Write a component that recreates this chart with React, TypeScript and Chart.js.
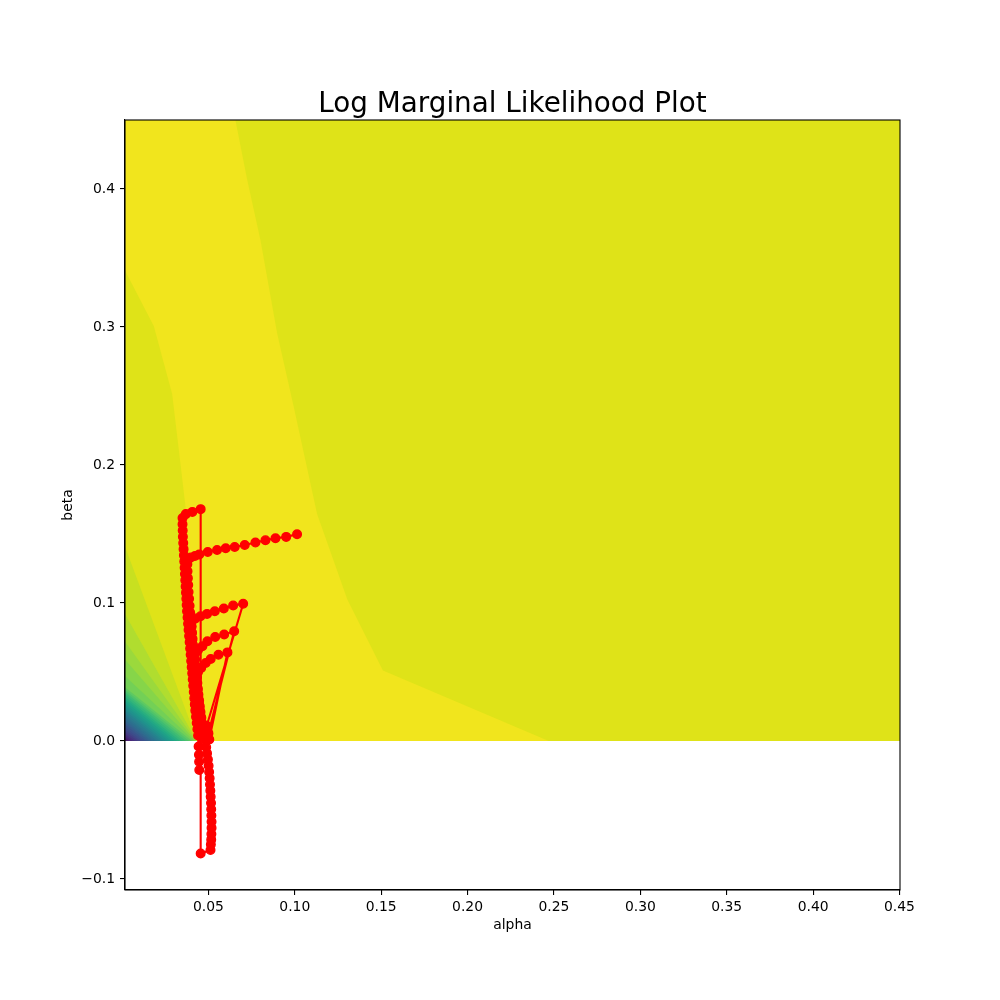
import React, { useEffect, useRef } from "react";
import { Chart, registerables } from "chart.js";

Chart.register(...registerables);

// ---------- text ----------
const titleText = "Log Marginal Likelihood Plot";
const xLabelText = "alpha";
const yLabelText = "beta";

// ---------- axes ----------
const X_MIN = 0.0017;
const X_MAX = 0.4503;
const Y_MIN = -0.108;
const Y_MAX = 0.45;
const xTickValues = [0.05, 0.1, 0.15, 0.2, 0.25, 0.3, 0.35, 0.4, 0.45];
const yTickValues = [-0.1, 0.0, 0.1, 0.2, 0.3, 0.4];

// ---------- contour (filled levels) ----------
const gridAlpha = [0.0017, 0.4503];
const gridBeta = [0.0, 0.45];
const mainLevelColor = "#dfe318";
const peakLevelColor = "#f1e51d";

// left edge of the highest level band (top -> bottom)
const peakLeftAlpha = [0.0017, 0.0017, 0.0184, 0.029, 0.0339, 0.0367, 0.0385, 0.041, 0.0435];
const peakLeftBeta = [0.45, 0.341, 0.3006, 0.2515, 0.2, 0.17, 0.14, 0.08, 0.0];
// right edge of the highest level band (bottom -> top)
const peakRightAlpha = [0.247, 0.151, 0.1304, 0.1129, 0.0994, 0.0898, 0.0801, 0.0724, 0.0656];
const peakRightBeta = [0.0, 0.051, 0.1025, 0.1644, 0.242, 0.2953, 0.3631, 0.4068, 0.45];

// lower level lines near the origin: where each meets the left edge (beta) and beta = 0 (alpha)
const fanEdgeBeta = [
  0.141, 0.092, 0.072, 0.059, 0.047, 0.039, 0.0372, 0.0355, 0.0338, 0.0321, 0.0304, 0.0287,
  0.027, 0.0253, 0.0236, 0.0219, 0.0202, 0.0185, 0.0168, 0.0151, 0.0134, 0.0117, 0.01,
  0.0083, 0.0066, 0.005, 0.0036, 0.0023, 0.0012, 0.0004,
];
const fanEdgeAlpha = [
  0.0435, 0.0433, 0.043, 0.0425, 0.0418, 0.0405, 0.0388, 0.037, 0.0352, 0.0335, 0.0318, 0.0301,
  0.0284, 0.0268, 0.0252, 0.0236, 0.022, 0.0204, 0.0188, 0.0172, 0.0156, 0.014, 0.0124,
  0.0108, 0.0092, 0.0076, 0.006, 0.0044, 0.003, 0.0018,
];
const fanColors = [
  "#c8e020", "#b0dd2f", "#9bd93c", "#86d549", "#73d056", "#5ec962", "#4ec36b", "#3fbc73",
  "#34b679", "#29af7f", "#22a884", "#1fa088", "#1f998a", "#20928c", "#238a8d", "#26828e",
  "#297b8e", "#2b748e", "#2e6d8e", "#32658e", "#365d8d", "#3a548c", "#3d4d8a", "#414487",
  "#443a83", "#46307e", "#482677", "#481c6e", "#471063", "#450457",
];

// ---------- optimisation path (alpha, beta) ----------
const run1Alpha = [0.1013, 0.095, 0.0888, 0.083, 0.0772, 0.071, 0.0652, 0.06, 0.055, 0.0496, 0.0447, 0.0422, 0.0398, 0.0384, 0.0378, 0.0379, 0.0381, 0.0383, 0.0385, 0.0388, 0.0391, 0.0394, 0.0397, 0.04, 0.0403, 0.0406, 0.0409, 0.0412, 0.0415, 0.0418, 0.0421, 0.0424, 0.0428, 0.0431, 0.0435, 0.0439, 0.0443, 0.0447, 0.0452, 0.046, 0.0473, 0.049];
const run1Beta = [0.1498, 0.1479, 0.1469, 0.1455, 0.1438, 0.142, 0.1406, 0.1396, 0.1384, 0.1369, 0.1352, 0.134, 0.133, 0.1318, 0.128, 0.123, 0.118, 0.113, 0.108, 0.103, 0.098, 0.093, 0.088, 0.083, 0.078, 0.073, 0.068, 0.063, 0.058, 0.053, 0.048, 0.043, 0.038, 0.033, 0.028, 0.023, 0.018, 0.0135, 0.01, 0.0085, 0.009, 0.011];
const run2Alpha = [0.0701, 0.0643, 0.0589, 0.0537, 0.0492, 0.0454, 0.0425, 0.0405, 0.0403, 0.0405, 0.0408, 0.0411, 0.0414, 0.0417, 0.042, 0.0423, 0.0426, 0.0429, 0.0432, 0.0436, 0.044, 0.0444, 0.0448, 0.0452, 0.0458, 0.0468, 0.0485, 0.05];
const run2Beta = [0.0994, 0.0982, 0.096, 0.094, 0.0921, 0.0904, 0.0888, 0.087, 0.083, 0.0785, 0.074, 0.0695, 0.065, 0.0605, 0.056, 0.0515, 0.047, 0.0425, 0.038, 0.0335, 0.029, 0.0245, 0.02, 0.0155, 0.0115, 0.008, 0.006, 0.0055];
const run3Alpha = [0.0649, 0.0591, 0.0539, 0.0494, 0.0465, 0.044, 0.0424, 0.0423, 0.0425, 0.0428, 0.0431, 0.0434, 0.0437, 0.0441, 0.0445, 0.0449, 0.0454, 0.0459, 0.0467, 0.0479, 0.0492, 0.0505];
const run3Beta = [0.0795, 0.0771, 0.0754, 0.0722, 0.0686, 0.066, 0.0635, 0.059, 0.0545, 0.05, 0.0455, 0.041, 0.0365, 0.032, 0.0275, 0.023, 0.0185, 0.014, 0.0095, 0.0055, 0.0025, 0.001];
const run4Alpha = [0.061, 0.0558, 0.0513, 0.0484, 0.0458, 0.044, 0.0434, 0.0436, 0.0439, 0.0442, 0.0446, 0.045, 0.0454, 0.0459, 0.0464, 0.047, 0.0476, 0.0482, 0.0487, 0.0492, 0.0497, 0.0501, 0.0504, 0.0507, 0.0509, 0.0511, 0.0513, 0.0515, 0.0516, 0.0517, 0.0518, 0.0518, 0.0517, 0.0516, 0.0514, 0.0512, 0.0455];
const run4Beta = [0.0642, 0.0625, 0.0594, 0.0565, 0.0529, 0.05, 0.0462, 0.042, 0.0378, 0.0336, 0.0294, 0.0252, 0.021, 0.0168, 0.0126, 0.0084, 0.0042, 0.0, -0.0045, -0.009, -0.0135, -0.018, -0.0225, -0.027, -0.0315, -0.036, -0.0405, -0.045, -0.0495, -0.054, -0.0585, -0.063, -0.0675, -0.0715, -0.075, -0.079, -0.0815];
const run5Alpha = [0.0455, 0.0407, 0.0369, 0.035, 0.035, 0.0351, 0.0352, 0.0354, 0.0356, 0.0358, 0.036, 0.0362, 0.0364, 0.0366, 0.0368, 0.037, 0.0372, 0.0374, 0.0376, 0.0379, 0.0382, 0.0385, 0.0388, 0.0391, 0.0394, 0.0397, 0.04, 0.0403, 0.0406, 0.0409, 0.0412, 0.0415, 0.0418, 0.0421, 0.0424, 0.0428, 0.0432, 0.0436, 0.044, 0.0443, 0.0445, 0.0446, 0.0447];
const run5Beta = [0.168, 0.166, 0.1644, 0.1615, 0.157, 0.1525, 0.148, 0.1435, 0.139, 0.1345, 0.13, 0.1255, 0.121, 0.1165, 0.112, 0.1075, 0.103, 0.0985, 0.094, 0.0895, 0.085, 0.0805, 0.076, 0.0715, 0.067, 0.0625, 0.058, 0.0535, 0.049, 0.0445, 0.04, 0.0355, 0.031, 0.0265, 0.022, 0.0175, 0.013, 0.0085, 0.004, -0.004, -0.01, -0.015, -0.021];

type Pt = { x: number; y: number };
const zip = (xs: number[], ys: number[]): Pt[] => {
  const n = Math.min(xs.length, ys.length);
  const out: Pt[] = [];
  for (let i = 0; i < n; i++) out.push({ x: xs[i], y: ys[i] });
  return out;
};

const pathPoints: Pt[] = [
  ...zip(run1Alpha, run1Beta),
  ...zip(run2Alpha, run2Beta),
  ...zip(run3Alpha, run3Beta),
  ...zip(run4Alpha, run4Beta),
  ...zip(run5Alpha, run5Beta),
];

const polygonDataset = (data: Pt[], color: string, order: number) => ({
  type: "line" as const,
  data,
  order,
  showLine: true,
  fill: "shape" as const,
  backgroundColor: color,
  borderColor: "rgba(0,0,0,0)",
  borderWidth: 0,
  pointRadius: 0,
  pointHoverRadius: 0,
  tension: 0,
});

const FONT = '"DejaVu Sans", "Liberation Sans", sans-serif';

const annotatePlugin = {
  id: "annotate",
  afterDatasetsDraw(chart: any) {
    const { ctx, chartArea: a } = chart;
    ctx.save();
    ctx.strokeStyle = "#000";
    ctx.lineWidth = 1.1;
    ctx.strokeRect(a.left, a.top, a.right - a.left, a.bottom - a.top);
    ctx.restore();
  },
  afterDraw(chart: any) {
    const { ctx, chartArea: a } = chart;
    const cx = (a.left + a.right) / 2;
    ctx.save();
    ctx.fillStyle = "#000";
    ctx.textAlign = "center";
    ctx.textBaseline = "alphabetic";
    ctx.font = `27.8px ${FONT}`;
    ctx.fillText(titleText, cx, a.top - 8.3);
    ctx.font = `13.9px ${FONT}`;
    ctx.textBaseline = "middle";
    ctx.fillText(xLabelText, cx, a.bottom + 35);
    ctx.translate(a.left - 57, (a.top + a.bottom) / 2);
    ctx.rotate(-Math.PI / 2);
    ctx.fillText(yLabelText, 0, 0);
    ctx.restore();
  },
};

export default function App() {
  const ref = useRef<HTMLCanvasElement>(null);

  useEffect(() => {
    if (!ref.current) return;

    const datasets: any[] = [];
    datasets.push(
      polygonDataset(
        [
          { x: gridAlpha[0], y: gridBeta[0] },
          { x: gridAlpha[0], y: gridBeta[1] },
          { x: gridAlpha[1], y: gridBeta[1] },
          { x: gridAlpha[1], y: gridBeta[0] },
        ],
        mainLevelColor,
        500
      )
    );
    datasets.push(
      polygonDataset(
        [...zip(peakLeftAlpha, peakLeftBeta), ...zip(peakRightAlpha, peakRightBeta)],
        peakLevelColor,
        499
      )
    );
    for (let k = 0; k < fanEdgeBeta.length; k++) {
      datasets.push(
        polygonDataset(
          [
            { x: gridAlpha[0], y: 0 },
            { x: gridAlpha[0], y: fanEdgeBeta[k] },
            { x: fanEdgeAlpha[k], y: 0 },
          ],
          fanColors[k],
          400 - k
        )
      );
    }
    datasets.push({
      type: "line",
      data: pathPoints,
      order: 0,
      showLine: true,
      fill: false,
      borderColor: "#ff0000",
      borderWidth: 2.1,
      backgroundColor: "#ff0000",
      pointRadius: 4.3,
      pointBorderWidth: 1.4,
      pointBackgroundColor: "#ff0000",
      pointBorderColor: "#ff0000",
      tension: 0,
    });

    const tickFont = { family: FONT, size: 13.9 };
    const chart = new Chart(ref.current, {
      type: "line",
      data: { datasets },
      plugins: [annotatePlugin],
      options: {
        animation: false,
        responsive: false,
        events: [],
        layout: { padding: { left: 0, right: 100, top: 120, bottom: 0 } },
        plugins: {
          legend: { display: false },
          tooltip: { enabled: false },
          title: { display: false },
        },
        scales: {
          x: {
            type: "linear",
            min: X_MIN,
            max: X_MAX,
            afterBuildTicks: (s: any) => {
              s.ticks = xTickValues.map((v) => ({ value: v }));
            },
            afterFit: (s: any) => {
              s.height = 110;
            },
            ticks: {
              autoSkip: false,
              maxRotation: 0,
              minRotation: 0,
              padding: 4,
              color: "#000",
              font: tickFont,
              callback: (v: any) => Number(v).toFixed(2),
            },
            grid: {
              display: true,
              drawOnChartArea: false,
              drawTicks: true,
              tickLength: 5,
              color: "#000",
              lineWidth: 1.1,
            },
            border: { display: true, color: "#000", width: 1.1 },
          },
          y: {
            type: "linear",
            min: Y_MIN,
            max: Y_MAX,
            afterBuildTicks: (s: any) => {
              s.ticks = yTickValues.map((v) => ({ value: v }));
            },
            afterFit: (s: any) => {
              s.width = 125;
            },
            ticks: {
              autoSkip: false,
              padding: 5,
              color: "#000",
              font: tickFont,
              callback: (v: any) => {
                const n = Number(v);
                return n < 0 ? "\u2212" + Math.abs(n).toFixed(1) : n.toFixed(1);
              },
            },
            grid: {
              display: true,
              drawOnChartArea: false,
              drawTicks: true,
              tickLength: 5,
              color: "#000",
              lineWidth: 1.1,
            },
            border: { display: true, color: "#000", width: 1.1 },
          },
        },
      } as any,
    });
    return () => chart.destroy();
  }, []);

  return (
    <div style={{ position: "absolute", left: 0, top: 0, width: 1000, height: 1000, background: "#fff" }}>
      <canvas ref={ref} width={1000} height={1000} style={{ width: 1000, height: 1000, display: "block" }} />
    </div>
  );
}
